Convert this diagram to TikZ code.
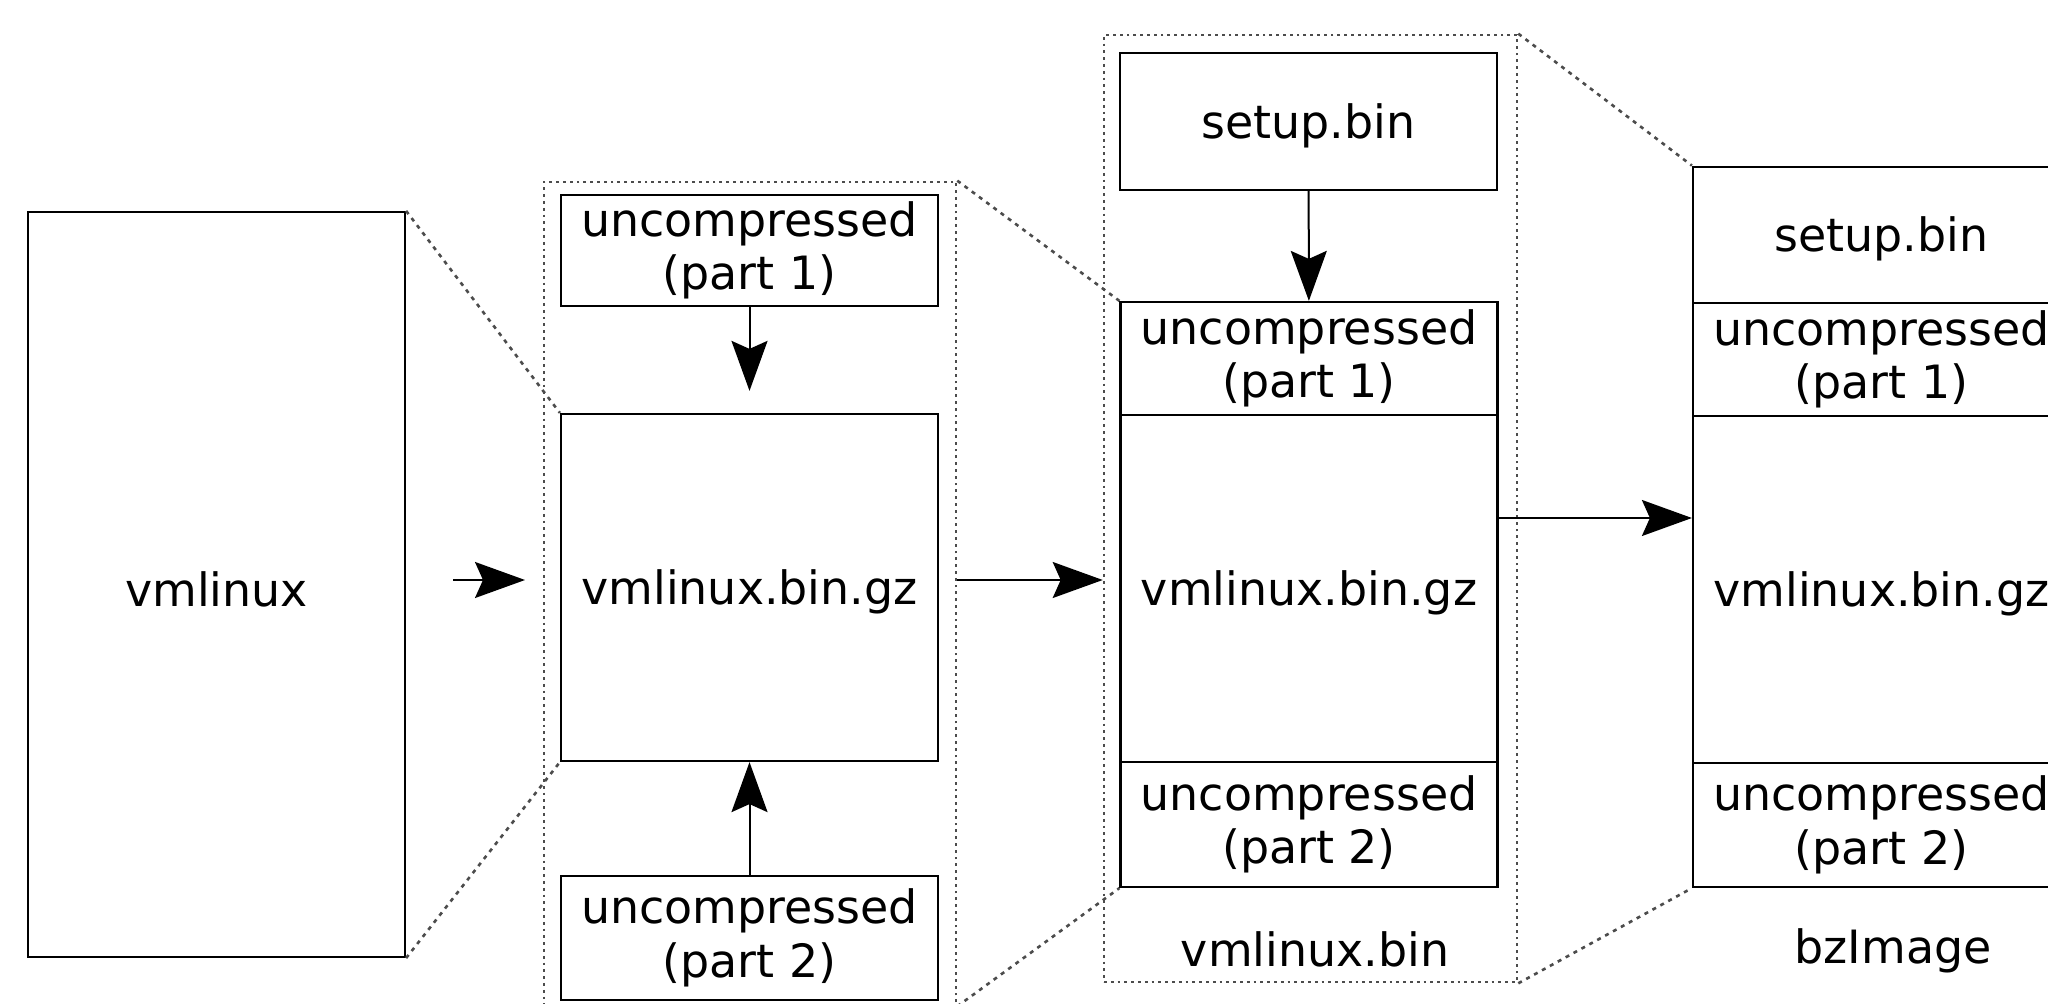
\documentclass[tikz,border=0pt]{standalone}
\usepackage{fontspec}
\setmainfont{DejaVu Sans}
\usetikzlibrary{arrows.meta}

\begin{document}
\begin{tikzpicture}[x=0.5pt,y=-0.5pt,
  every node/.style={font=\fontsize{22.95pt}{26.75pt}\selectfont, align=center, inner sep=0pt},
  % the invisible strut sets the text slightly below the geometric centre of each box
  blk/.style={draw, line width=1.1pt, minimum width=188.5pt,
    execute at begin node={\rule{0pt}{22pt}}},
  frame/.style={draw=black!70, line width=1.3pt, dash pattern=on 1.4pt off 2pt},
  zoomline/.style={draw=black!70, line width=1.3pt, dash pattern=on 2pt off 2.5pt},
  flow/.style={line width=1pt, -{Stealth[length=25pt, width=18pt, inset=4pt]}}
]
\useasboundingbox (0,0) rectangle (2048,1004);
\fill[white] (0,0) rectangle (2048,1004);
\clip (0,0) rectangle (2048,1004);

% helper coordinates for the horizontal flow arrows
\coordinate (yA) at (0,580);
\coordinate (yB) at (0,518);

% the kernel image
\node[blk, minimum height=372.5pt] (vml) at (216.5,584.5) {vmlinux};

% vmlinux.bin.gz with its uncompressed parts
\node[frame, minimum width=206pt, minimum height=411.5pt] (fA) at (750,593.5) {};
\node[blk, minimum height=55.5pt] (p1A) at (749.5,250.5) {uncompressed\\(part 1)};
\node[blk, minimum height=173.5pt] (gzA) at (749.5,587.5) {vmlinux.bin.gz};
\node[blk, minimum height=62pt] (p2A) at (749.5,938) {uncompressed\\(part 2)};

% vmlinux.bin
\node[frame, minimum width=206.5pt, minimum height=473.5pt] (fB) at (1310.5,508.5) {};
\node[blk, minimum height=68.5pt] (suB) at (1308.5,121.5) {setup.bin};
\node[blk, minimum height=56.5pt] (p1B) at (1309,358.5) {uncompressed\\(part 1)};
\node[blk, minimum height=173.5pt] (gzB) at (1309,588.5) {vmlinux.bin.gz};
\node[blk, minimum height=62.5pt] (p2B) at (1309,824.5) {uncompressed\\(part 2)};
\node (lbB) at (1315,949) {vmlinux.bin};

% bzImage
\node[blk, minimum height=68pt] (suC) at (1881.5,234.7) {setup.bin};
\node[blk, minimum height=56.65pt] (p1C) at (1881.5,359.35) {uncompressed\\(part 1)};
\node[blk, minimum height=173.5pt] (gzC) at (1881.5,589.5) {vmlinux.bin.gz};
\node[blk, minimum height=62pt] (p2C) at (1881.5,825) {uncompressed\\(part 2)};
\node (lbC) at (1893,951) {bzImage};

% zoom guides between stages
\draw[zoomline] (vml.north east) -- (gzA.north west);
\draw[zoomline] (vml.south east) -- (gzA.south west);
\draw[zoomline] (fA.north east) -- (p1B.north west);
\draw[zoomline] (fA.south east) -- (p2B.south west);
\draw[zoomline] (fB.north east) -- (suC.north west);
\draw[zoomline] (fB.south east) -- (p2C.south west);

% flow arrows
\coordinate (t0) at (453,580);
\coordinate (h0) at (525,580);
\draw[flow] (t0) -- (h0);
\draw[flow, shorten >=11pt] (p1A) -- (gzA);
\draw[flow] (p2A) -- (gzA);
\draw[flow] (fA.east |- yA) -- (fB.west |- yA);
\draw[flow] (suB) -- (p1B);
\draw[flow] (gzB.east |- yB) -- (gzC.west |- yB);
\end{tikzpicture}
\end{document}
